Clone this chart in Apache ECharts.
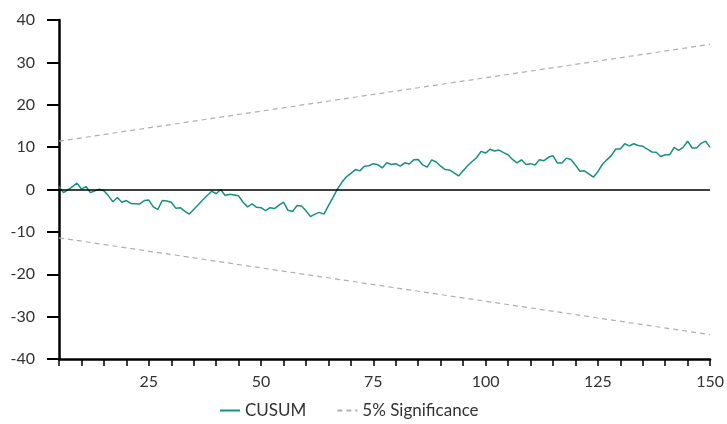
<!DOCTYPE html>
<html><head><meta charset="utf-8">
<script src="https://cdn.jsdelivr.net/npm/echarts@6/dist/echarts.min.js"></script>
<style>html,body{margin:0;padding:0;background:#fff}#c{width:727px;height:424px}</style>
</head><body><div id="c"></div>
<script>
const startPeriod = 5;
const cusum = [0.7,-0.75,-0.1,0.7,1.5,0.1,0.7,-0.75,-0.3,0.05,-0.3,-1.5,-2.9,-1.9,-3.0,-2.6,-3.3,-3.35,-3.4,-2.6,-2.5,-4.1,-4.7,-2.6,-2.7,-3.0,
-4.4,-4.3,-5.1,-5.8,-4.7,-3.6,-2.5,-1.4,-0.4,-1.0,0.0,-1.4,-1.1,-1.3,-1.5,-3.0,-4.1,-3.4,-4.2,-4.3,-5.0,-4.3,-4.5,-3.7,-3.0,-4.9,-5.2,-3.8,-3.9,-5.0,
-6.4,-5.8,-5.4,-5.8,-3.8,-1.9,0.1,1.7,3.0,3.8,4.7,4.4,5.5,5.6,6.1,5.85,5.1,6.3,5.9,6.1,5.5,6.3,6.0,7.0,7.1,5.8,5.3,7.0,6.5,5.5,
4.7,4.6,3.9,3.2,4.4,5.6,6.6,7.5,9.0,8.6,9.5,9.1,9.3,8.7,8.2,7.1,6.3,7.0,5.9,6.1,5.8,7.0,6.8,7.6,8.0,6.25,6.25,7.4,7.1,5.8,
4.3,4.4,3.7,2.9,4.2,5.9,7.0,8.0,9.55,9.55,10.8,10.3,10.8,10.4,10.2,9.55,8.85,8.8,7.8,8.2,8.2,9.95,9.25,9.95,11.4,9.8,9.8,10.9,11.4,9.95];
const upperBound = [[5, 11.4], [150, 34.25]];
const lowerBound = [[5, -11.4], [150, -34.25]];
const yTicks = [-40, -30, -20, -10, 0, 10, 20, 30, 40];
const xLabelEvery = 25;

const cusumData = cusum.map((v, i) => [startPeriod + i, v]);
const font = 'Lato, "Open Sans", sans-serif';
const chart = echarts.init(document.getElementById('c'));
chart.setOption({
  animation: false,
  grid: {left: 59, right: 15, top: 20, bottom: 65},
  legend: {
    bottom: 0, left: 214, itemWidth: 20, itemHeight: 10, itemGap: 30,
    itemStyle: {opacity: 0},
    textStyle: {fontFamily: font, fontSize: 17, color: '#333'},
    data: ['CUSUM', '5% Significance']
  },
  xAxis: {
    type: 'value', min: 5, max: 150, interval: 5,
    axisLine: {onZero: false, lineStyle: {color: '#000', width: 2.5}},
    axisTick: {show: true, length: 7, lineStyle: {color: '#000', width: 1.5}},
    splitLine: {show: false},
    axisLabel: {
      margin: 15, fontFamily: font, fontSize: 16, color: '#333',
      formatter: v => (v % xLabelEvery === 0 ? String(v) : '')
    }
  },
  yAxis: {
    type: 'value', min: yTicks[0], max: yTicks[yTicks.length - 1], interval: 10,
    axisLine: {show: true, onZero: false, lineStyle: {color: '#000', width: 2.5}},
    axisTick: {show: true, length: 12, lineStyle: {color: '#000', width: 2}},
    splitLine: {show: false},
    axisLabel: {margin: 24, fontFamily: font, fontSize: 16, color: '#333'}
  },
  series: [
    {
      name: 'CUSUM', type: 'line', data: cusumData, showSymbol: false, symbol: 'none',
      lineStyle: {color: '#17917f', width: 1.5}, itemStyle: {color: '#17917f'},
      z: 4
    },
    {
      name: '5% Significance', type: 'line', data: upperBound, symbol: 'none',
      lineStyle: {color: '#b0b0b0', width: 1.2, type: [5, 4]}, itemStyle: {color: '#b0b0b0'},
      markLine: {
        silent: true, symbol: 'none', label: {show: false},
        lineStyle: {color: '#000', width: 1.5, type: 'solid'},
        data: [{yAxis: 0}]
      },
      z: 2
    },
    {
      name: '5% Significance', type: 'line', data: lowerBound, symbol: 'none',
      lineStyle: {color: '#b0b0b0', width: 1.2, type: [5, 4]}, itemStyle: {color: '#b0b0b0'},
      z: 2
    }
  ]
});
</script></body></html>
